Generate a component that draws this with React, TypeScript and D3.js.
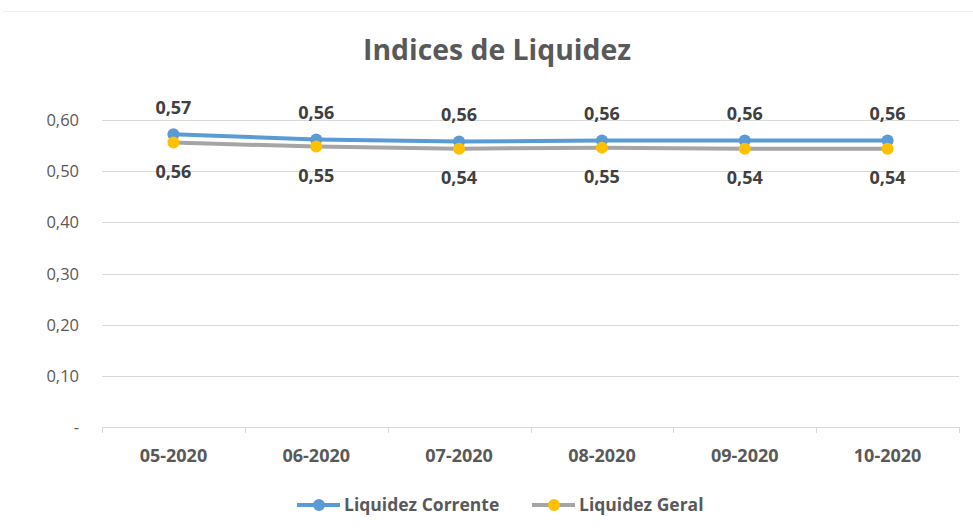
import { useEffect, useRef } from 'react'
import { select, scaleBand, scaleLinear, line, format } from 'd3'

const categories = ['05-2020', '06-2020', '07-2020', '08-2020', '09-2020', '10-2020']
const corrente = [0.572, 0.562, 0.558, 0.56, 0.56, 0.56]
const geral = [0.556, 0.548, 0.544, 0.546, 0.544, 0.544]
const yTicks = [0, 0.1, 0.2, 0.3, 0.4, 0.5, 0.6]

const series = [
  { name: 'Liquidez Corrente', values: corrente, line: '#5B9BD5', dot: '#5B9BD5', above: true },
  { name: 'Liquidez Geral', values: geral, line: '#A5A5A5', dot: '#FFC000', above: false },
]

const FONT = "'Open Sans', 'Noto Sans', sans-serif"

const App = () => {
  const svgRef = useRef(null)

  useEffect(() => {
    const width = 973
    const height = 530
    const left = 102
    const right = 959
    const top = 120
    const bottom = 427

    const svg = select(svgRef.current)
    svg.selectAll('*').remove()
    svg.attr('width', width).attr('height', height).style('font-family', FONT)

    svg.append('rect').attr('width', width).attr('height', height).attr('fill', '#fff')
    // chart border edge at the top
    svg.append('line').attr('x1', 3).attr('x2', width).attr('y1', 11.5).attr('y2', 11.5)
      .attr('stroke', '#eeeeee')

    const x = scaleBand<string>().domain(categories).range([left, right])
    const y = scaleLinear().domain([0, 0.6]).range([bottom, top])
    const fmt = (v: number) => (v === 0 ? '-' : format('.2f')(v).replace('.', ','))

    // title
    svg.append('text').attr('x', 497).attr('y', 60).attr('text-anchor', 'middle')
      .attr('font-size', 28).attr('font-weight', 'bold').attr('fill', '#595959')
      .attr('textLength', 268).attr('lengthAdjust', 'spacingAndGlyphs')
      .text('Indices de Liquidez')

    // gridlines + y labels
    const grid = svg.append('g')
    yTicks.forEach((t) => {
      if (t > 0) {
        grid.append('line').attr('x1', left).attr('x2', right)
          .attr('y1', Math.round(y(t)) + 0.5).attr('y2', Math.round(y(t)) + 0.5)
          .attr('stroke', '#d9d9d9')
      }
      grid.append('text').attr('x', 79).attr('y', y(t) + 6).attr('text-anchor', 'end')
        .attr('font-size', 16.5).attr('fill', '#595959').text(fmt(t))
    })

    // x axis
    const ax = svg.append('g')
    ax.append('line').attr('x1', left).attr('x2', right)
      .attr('y1', bottom + 0.5).attr('y2', bottom + 0.5).attr('stroke', '#d9d9d9')
    ;[...categories.map((c) => x(c)!), right].forEach((px) => {
      ax.append('line').attr('x1', Math.round(px) + 0.5).attr('x2', Math.round(px) + 0.5)
        .attr('y1', bottom).attr('y2', bottom + 6).attr('stroke', '#d9d9d9')
    })
    categories.forEach((c) => {
      ax.append('text').attr('x', x(c)! + x.bandwidth() / 2).attr('y', 462)
        .attr('text-anchor', 'middle').attr('font-size', 18).attr('font-weight', 'bold')
        .attr('fill', '#595959').text(c)
    })

    const cx = (i: number) => x(categories[i])! + x.bandwidth() / 2

    series.forEach((s) => {
      const path = line<number>().x((_, i) => cx(i)).y((d) => y(d))
      svg.append('path').datum(s.values).attr('d', path).attr('fill', 'none')
        .attr('stroke', s.line).attr('stroke-width', 4).attr('stroke-linejoin', 'round')
        .attr('stroke-linecap', 'round')
    })
    series.forEach((s) => {
      s.values.forEach((v, i) => {
        svg.append('circle').attr('cx', cx(i)).attr('cy', y(v)).attr('r', 6).attr('fill', s.dot)
      })
    })
    series.forEach((s) => {
      s.values.forEach((v, i) => {
        svg.append('text').attr('x', cx(i)).attr('y', s.above ? y(v) - 20 : y(v) + 35)
          .attr('text-anchor', 'middle').attr('font-size', 18).attr('font-weight', 'bold')
          .attr('fill', '#404040').text(fmt(v))
      })
    })

    // legend
    const legendPos = [{ x: 297, tx: 344 }, { x: 532, tx: 579 }]
    series.forEach((s, i) => {
      const g = svg.append('g').attr('transform', `translate(${legendPos[i].x},505)`)
      g.append('line').attr('x1', 0).attr('x2', 43).attr('stroke', s.line).attr('stroke-width', 4)
      g.append('circle').attr('cx', 22).attr('r', 6).attr('fill', s.dot)
      svg.append('text').attr('x', legendPos[i].tx).attr('y', 511).attr('font-size', 17.5)
        .attr('font-weight', 'bold').attr('fill', '#595959').text(s.name)
    })
  }, [])

  return (
    <svg ref={svgRef} style={{ position: 'absolute', left: 0, top: 0, display: 'block' }} />
  )
}

export default App
